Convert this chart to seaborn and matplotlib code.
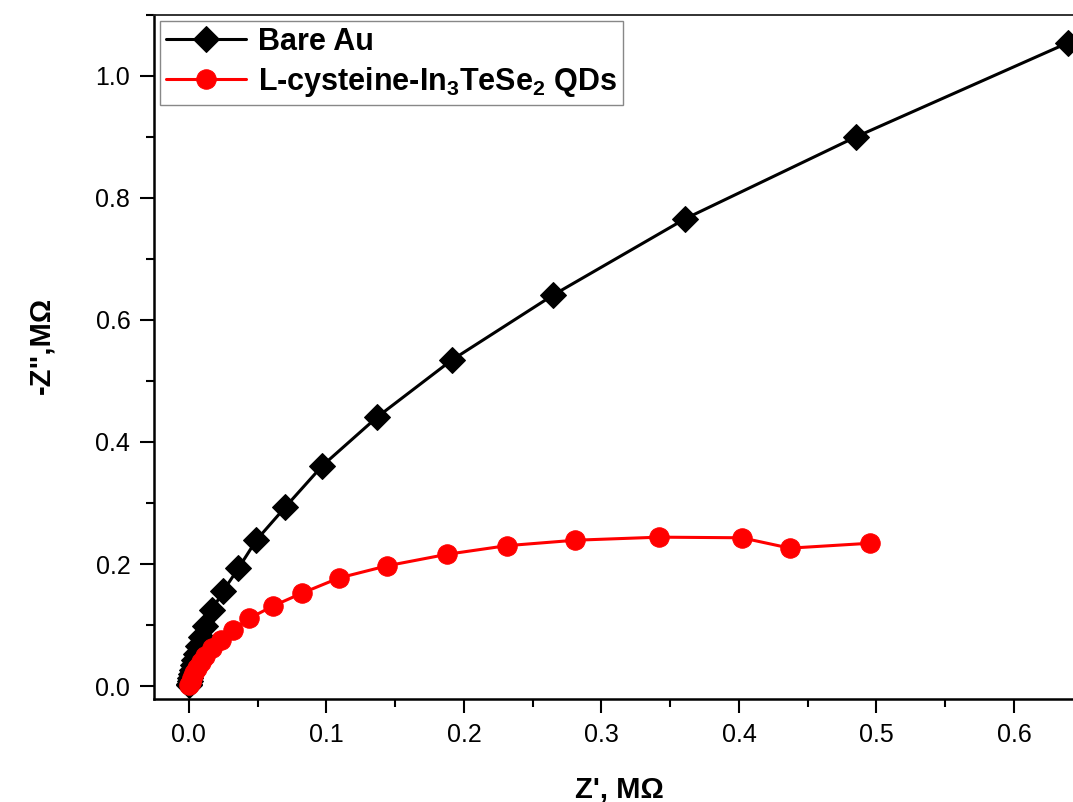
import matplotlib
matplotlib.use("Agg")
import matplotlib.pyplot as plt
from matplotlib.ticker import MultipleLocator, FormatStrFormatter
import seaborn as sns
import pandas as pd

# Nyquist data (MOhm)
bare_zre = [0.639, 0.485, 0.361, 0.265, 0.191, 0.137, 0.097, 0.070, 0.049,
            0.036, 0.025, 0.017, 0.012, 0.009, 0.0065, 0.005, 0.0038, 0.0028,
            0.002, 0.0014, 0.0009, 0.0005, 0.0002, 0.0]
bare_zim = [1.054, 0.900, 0.766, 0.641, 0.534, 0.441, 0.361, 0.293, 0.239,
            0.193, 0.156, 0.125, 0.098, 0.080, 0.065, 0.053, 0.043, 0.034,
            0.026, 0.019, 0.013, 0.008, 0.004, 0.001]

qd_zre = [0.495, 0.437, 0.402, 0.342, 0.281, 0.231, 0.188, 0.144, 0.109,
          0.082, 0.061, 0.044, 0.032, 0.023, 0.017, 0.012, 0.009, 0.006,
          0.004, 0.0025, 0.0012, 0.0003]
qd_zim = [0.234, 0.226, 0.243, 0.244, 0.239, 0.230, 0.216, 0.197, 0.177,
          0.152, 0.131, 0.111, 0.092, 0.075, 0.062, 0.050, 0.040, 0.030,
          0.021, 0.013, 0.006, 0.001]

bare_label = "Bare Au"
qd_label = r"L-cysteine-In$_{3}$TeSe$_{2}$ QDs"

sns.set_style("ticks")
plt.rcParams['font.family'] = ['Liberation Sans', 'DejaVu Sans']
plt.rcParams['text.color'] = 'black'
plt.rcParams['axes.labelcolor'] = 'black'
plt.rcParams['mathtext.fontset'] = 'custom'
plt.rcParams['mathtext.rm'] = 'Liberation Sans:bold'
plt.rcParams['mathtext.bf'] = 'Liberation Sans:bold'
plt.rcParams['mathtext.default'] = 'bf'

df_bare = pd.DataFrame({"zre": bare_zre, "zim": bare_zim})
df_qd = pd.DataFrame({"zre": qd_zre, "zim": qd_zim})

fig = plt.figure(figsize=(10.73, 8.02), dpi=100)
ax = fig.add_axes([0.1435, 0.1284, 0.904, 0.853])

sns.lineplot(data=df_bare, x="zre", y="zim", ax=ax, sort=False, estimator=None,
             color="black", marker="D", markersize=13.5, markeredgecolor="black",
             linewidth=2.2, label=bare_label)
sns.lineplot(data=df_qd, x="zre", y="zim", ax=ax, sort=False, estimator=None,
             color="#ff0000", marker="o", markersize=14, markeredgecolor="#ff0000",
             linewidth=2.2, label=qd_label)

ax.set_xlim(-0.0254, 0.68)
ax.set_ylim(-0.0213, 1.1)

ax.xaxis.set_major_locator(MultipleLocator(0.1))
ax.xaxis.set_minor_locator(MultipleLocator(0.05))
ax.yaxis.set_major_locator(MultipleLocator(0.2))
ax.yaxis.set_minor_locator(MultipleLocator(0.1))
ax.xaxis.set_major_formatter(FormatStrFormatter("%.1f"))
ax.yaxis.set_major_formatter(FormatStrFormatter("%.1f"))

ax.tick_params(which="major", direction="out", length=10, width=1.5,
               labelsize=18, color="black", labelcolor="black", pad=7)
ax.tick_params(which="minor", direction="out", length=5.5, width=1.5, color="black")
ax.tick_params(top=False, right=False, which="both")

for side in ["left", "bottom"]:
    ax.spines[side].set_linewidth(1.8)
    ax.spines[side].set_color("black")
ax.spines["top"].set_linewidth(1.3)
ax.spines["top"].set_color("#222222")
ax.spines["right"].set_visible(False)

ax.set_xlabel("Z', M\u03a9", fontsize=21, fontweight="bold", color="black")
ax.set_ylabel('-Z",M\u03a9', fontsize=21, fontweight="bold", color="black")
ax.xaxis.set_label_coords(0.48, -0.112)
ax.yaxis.set_label_coords(-0.102, 0.5175)

leg = ax.legend(loc="upper left", frameon=True, fancybox=False,
                framealpha=1, edgecolor="#888888", borderaxespad=0.2,
                handlelength=2.6, handletextpad=0.4, borderpad=0.2,
                labelspacing=0.25, prop={"weight": "bold", "size": 22})
leg.get_frame().set_linewidth(1.0)
for t in leg.get_texts():
    t.set_color("black")

fig.savefig("out.png", dpi=100)
